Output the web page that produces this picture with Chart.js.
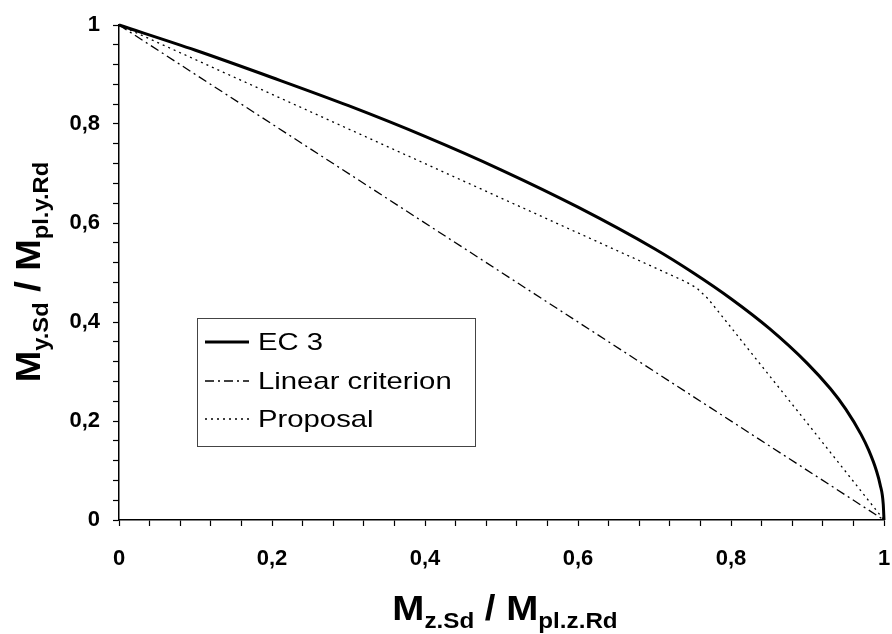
<!DOCTYPE html>
<html>
<head>
<meta charset="utf-8">
<script src="https://cdn.jsdelivr.net/npm/chart.js@4/dist/chart.umd.min.js"></script>
<style>
  body { margin: 0; background: #fff; }
  canvas { display: block; }
</style>
</head>
<body>
<canvas id="myChart" width="892" height="634"></canvas>
<script>
// values (x = Mz.Sd/Mpl.z.Rd, y = My.Sd/Mpl.y.Rd)
const ec3X = [0, 0.1, 0.2, 0.3, 0.4, 0.5, 0.6, 0.7, 0.75, 0.8, 0.85, 0.9, 0.93, 0.95, 0.97, 0.98, 0.99, 0.995, 0.999, 1];
const ec3Y = [1, 0.949, 0.894, 0.837, 0.775, 0.707, 0.632, 0.548, 0.5, 0.447, 0.387, 0.316, 0.265, 0.224, 0.173, 0.141, 0.1, 0.071, 0.032, 0];

const linX = [0, 1];
const linY = [1, 0];

const propX = [0, 0.1, 0.2, 0.3, 0.4, 0.5, 0.6, 0.7, 0.74, 0.755, 0.77, 0.8, 0.9, 1];
const propY = [1, 0.93, 0.86, 0.79, 0.72, 0.65, 0.58, 0.51, 0.482, 0.469, 0.447, 0.389, 0.195, 0];

const seriesNames = ['EC 3', 'Linear criterion', 'Proposal'];
const majorTicks = [0, 0.2, 0.4, 0.6, 0.8, 1];
const minorStep = 0.04;

const FONT = '"Liberation Sans", Arial, sans-serif';

function toPoints(xs, ys) {
    return xs.map((x, i) => ({ x: x, y: ys[i] }));
}

function tickLabel(value) {
    const hit = majorTicks.find(t => Math.abs(t - value) < 1e-6);
    if (hit === undefined) return '';
    if (hit === 0) return '0';
    if (hit === 1) return '1';
    return hit.toFixed(1).replace('.', ',');
}

// draws "M" + subscript pieces centred on cx, baseline baseY, stretched by sx
function drawRich(c, parts, cx, baseY, sx) {
    let total = 0;
    parts.forEach(p => {
        c.font = 'bold ' + (p.sub ? 22 : 35) + 'px ' + FONT;
        p.w = c.measureText(p.t).width;
        total += p.w;
    });
    c.save();
    c.translate(cx, baseY);
    c.scale(sx, 1);
    let x = -total / 2;
    parts.forEach(p => {
        c.font = 'bold ' + (p.sub ? 22 : 35) + 'px ' + FONT;
        c.fillText(p.t, x, p.sub ? 8 : 0);
        x += p.w;
    });
    c.restore();
}

const extras = {
    id: 'extras',
    afterDraw(chart) {
        const c = chart.ctx;
        c.save();
        c.fillStyle = '#000';
        c.textAlign = 'left';
        c.textBaseline = 'alphabetic';

        // x axis title
        drawRich(c, [
            { t: 'M', sub: false }, { t: 'z.Sd', sub: true },
            { t: ' / M', sub: false }, { t: 'pl.z.Rd', sub: true }
        ], 505, 620, 1.1);

        // y axis title (rotated)
        c.save();
        c.translate(40, 272);
        c.rotate(-Math.PI / 2);
        drawRich(c, [
            { t: 'M', sub: false }, { t: 'y.Sd', sub: true },
            { t: ' / M', sub: false }, { t: 'pl.y.Rd', sub: true }
        ], 0, 0, 1.08);
        c.restore();

        // legend box
        const bx = 197, by = 318, bw = 278, bh = 128;
        c.fillStyle = '#fff';
        c.fillRect(bx, by, bw, bh);
        c.strokeStyle = '#444';
        c.lineWidth = 1;
        c.strokeRect(bx + 0.5, by + 0.5, bw, bh);

        const rows = [342, 381, 419];
        chart.data.datasets.forEach((ds, i) => {
            c.beginPath();
            c.setLineDash(ds.borderDash || []);
            c.lineWidth = ds.borderWidth;
            c.strokeStyle = ds.borderColor;
            c.moveTo(205, rows[i]);
            c.lineTo(249, rows[i]);
            c.stroke();
            c.setLineDash([]);
            c.save();
            c.translate(258, rows[i] + 1);
            c.scale(1.22, 1);
            c.fillStyle = '#000';
            c.font = '24px ' + FONT;
            c.textBaseline = 'middle';
            c.fillText(seriesNames[i], 0, 0);
            c.restore();
        });
        c.restore();
    }
};

const axisCommon = {
    type: 'linear',
    min: 0,
    max: 1,
    border: { display: true, color: '#000', width: 1.5 },
    grid: {
        drawOnChartArea: false,
        drawTicks: true,
        tickLength: 6,
        tickColor: '#000',
        tickWidth: 1.2
    },
    ticks: {
        stepSize: minorStep,
        autoSkip: false,
        maxRotation: 0,
        color: '#000',
        font: { family: FONT, size: 22, weight: 'bold' },
        callback: tickLabel
    }
};

new Chart(document.getElementById('myChart').getContext('2d'), {
    type: 'line',
    data: {
        datasets: [
            {
                label: seriesNames[0],
                data: toPoints(ec3X, ec3Y),
                borderColor: '#000',
                borderWidth: 3,
                cubicInterpolationMode: 'monotone',
                borderJoinStyle: 'round',
                pointRadius: 0,
                clip: 6
            },
            {
                label: seriesNames[1],
                data: toPoints(linX, linY),
                borderColor: '#000',
                borderWidth: 1.3,
                borderDash: [9, 4, 2, 4],
                pointRadius: 0,
                clip: 6
            },
            {
                label: seriesNames[2],
                data: toPoints(propX, propY),
                borderColor: '#000',
                borderWidth: 1.3,
                borderDash: [2, 4],
                tension: 0,
                pointRadius: 0,
                clip: 6
            }
        ]
    },
    options: {
        responsive: false,
        animation: false,
        layout: { padding: { top: 25, right: 8, left: 0, bottom: 0 } },
        plugins: {
            legend: { display: false },
            tooltip: { enabled: false }
        },
        scales: {
            x: Object.assign({}, axisCommon, {
                ticks: Object.assign({}, axisCommon.ticks, { padding: 20 }),
                afterFit(scale) {
                    scale.height = 114;
                    scale.paddingLeft = 0;
                    scale.paddingRight = 0;
                }
            }),
            y: Object.assign({}, axisCommon, {
                ticks: Object.assign({}, axisCommon.ticks, { padding: 13 }),
                afterFit(scale) {
                    scale.width = 119;
                    scale.paddingTop = 0;
                    scale.paddingBottom = 0;
                }
            })
        }
    },
    plugins: [extras]
});
</script>
</body>
</html>
